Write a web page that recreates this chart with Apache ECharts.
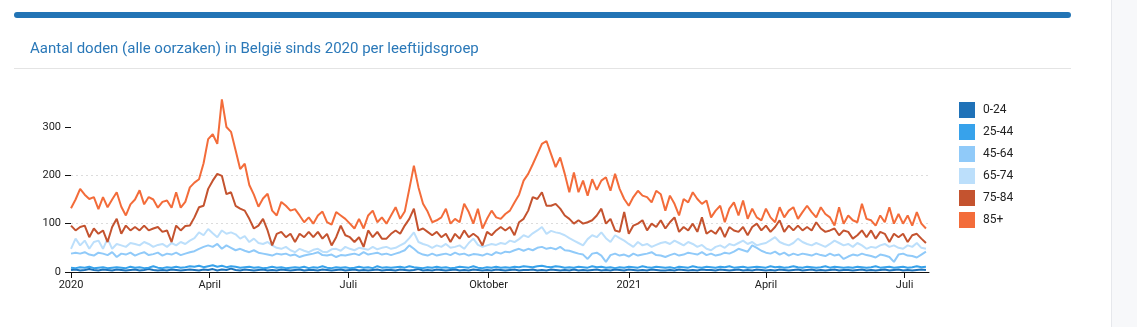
<!DOCTYPE html>
<html><head><meta charset="utf-8">
<script src="https://cdn.jsdelivr.net/npm/echarts@6/dist/echarts.min.js"></script>
<style>html,body{margin:0;padding:0;background:#fff}#c{width:1137px;height:327px}</style>
</head><body><div id="c"></div>
<script>
// day offsets from 2020-01-01, one value every 3 days
const stepDays = 3;
const lastDay = 563;
const tickDays = [0, 91, 182, 274, 366, 456, 547];
const tickLabels = ['2020', 'April', 'Juli', 'Oktober', '2021', 'April', 'Juli'];
const yTicks = [0, 100, 200, 300];
const seriesNames = ['0-24', '25-44', '45-64', '65-74', '75-84', '85+'];
const seriesColors = ['#1f72b8', '#37a2eb', '#90caf9', '#bcdffb', '#c4532f', '#f36c3a'];

const v0_24 = [
4,5,3,4,6,4,3,5,4,3, 5,4,3,4,5,3,4,6,4,3, 4,3,5,4,3,4,5,4,3,5, 4,6,3,5,4,7,4,3,5,4,
3,4,5,3,4,3,5,4,3,4, 5,3,4,4,3,5,4,3,4,5, 3,4,5,3,4,3,4,5,3,4, 4,3,5,4,3,4,6,3,4,3,
5,4,3,4,5,3,4,3,5,4, 3,4,3,5,4,3,4,5,3,4, 4,5,3,4,3,5,4,3,4,3, 5,3,4,3,4,5,3,4,3,5,
4,3,5,4,3,4,3,5,4,3, 3,4,3,5,4,3,4,3,5,4, 4,3,5,4,3,4,5,3,4,3, 5,4,3,4,3,5,4,3,4,5,
3,4,5,3,4,3,4,5,3,4, 4,3,4,5,3,4,3,4,5,3, 4,5,3,4,3,4,5,4];
const v25_44 = [
9,8,10,9,11,8,9,10,8,9, 10,9,8,11,9,10,8,9,12,9, 8,10,9,11,9,10,12,11,13,10, 12,14,11,13,10,12,11,9,10,11,
9,10,8,9,11,9,10,8,9,10, 9,11,8,10,9,12,9,8,10,9, 10,8,9,11,9,10,8,12,9,10, 9,10,11,9,12,10,9,8,10,9,
11,9,10,8,9,11,10,9,12,9, 8,10,9,11,9,10,9,11,10,12, 11,10,12,13,11,10,12,11,9,10, 9,11,10,9,12,10,11,9,10,8,
10,9,11,10,9,12,10,9,11,10, 9,10,8,11,10,9,12,10,9,11, 10,9,11,10,12,9,10,11,9,10, 11,10,9,12,10,11,9,10,12,10,
9,11,10,9,10,12,9,11,10,9, 10,9,11,10,9,10,12,9,10,11, 9,10,11,9,10,12,10,11];
const v45_64 = [
38,40,38,41,36,34,40,38,35,41, 31,38,36,40,34,38,41,35,37,40, 34,38,36,40,35,38,41,43,48,52, 55,52,58,48,55,50,45,48,44,41,
45,40,38,36,34,38,36,38,34,36, 31,34,36,38,41,35,34,36,31,35, 34,36,38,35,41,36,38,40,36,38, 35,38,41,45,55,48,40,36,34,38,
34,36,38,35,40,36,38,34,37,36, 34,38,35,41,38,42,41,45,48,44, 48,45,50,52,48,50,47,52,45,44, 41,38,36,27,38,40,34,21,35,38,
34,36,32,38,34,36,38,41,35,34, 31,35,38,34,36,40,38,36,41,35, 38,34,36,40,38,42,48,45,42,55, 50,44,40,38,42,36,40,34,38,35,
38,36,34,38,35,33,38,34,36,27, 32,36,34,38,35,33,30,36,34,31, 21,36,38,34,33,30,36,42];
const v65_74 = [
48,69,55,65,48,62,65,48,69,48, 58,55,52,60,58,55,62,58,52,56, 58,52,60,55,62,58,65,70,82,76, 89,80,72,86,79,82,78,69,74,62,
69,60,58,62,55,50,48,52,45,41, 48,44,41,46,48,42,41,47,48,44, 52,48,45,50,48,46,52,47,50,52, 48,50,55,60,70,82,62,58,55,50,
55,52,58,50,52,55,48,60,69,56, 52,55,58,56,60,58,65,62,68,76, 72,80,86,93,79,85,82,80,76,70, 65,60,55,68,76,72,82,70,62,76,
70,65,58,52,62,55,58,52,56,60, 62,58,65,60,55,62,58,52,56,48, 45,52,55,50,58,55,60,65,58,62, 55,58,60,66,72,62,58,55,60,69,
62,58,55,60,56,52,58,65,60,55, 58,52,60,55,48,52,50,55,58,52, 55,50,48,55,52,60,50,48];
const v75_84 = [
96,86,93,96,72,90,79,86,62,93, 110,79,96,86,93,86,96,86,90,93, 83,86,62,96,86,95,96,113,134,137, 172,189,203,199,161,165,137,131,127,110,
90,96,110,86,55,79,83,72,79,62, 79,72,83,72,83,69,79,55,72,96, 76,72,62,72,52,86,72,83,69,69, 79,86,79,96,110,131,86,90,83,76,
83,72,79,62,79,69,86,72,79,72, 55,83,76,86,93,86,93,76,103,110, 127,155,151,165,137,137,141,131,117,110, 100,107,100,103,107,117,131,100,110,86,
83,124,79,96,100,107,86,100,93,107, 90,103,113,83,93,86,100,83,113,79, 86,79,93,72,93,86,83,93,76,93, 100,86,96,83,93,107,83,96,86,96,
86,93,86,103,90,83,86,90,76,86, 83,69,76,86,72,86,69,83,79,62, 79,72,79,62,76,79,69,60];
const v85plus = [
132,150,172,160,151,155,130,155,134,150, 165,135,117,140,150,169,140,155,150,133, 145,148,133,165,133,145,175,185,192,225, 275,285,265,357,300,290,252,213,224,180,
160,135,152,162,127,117,145,137,127,130, 117,103,113,100,117,125,103,98,124,117, 110,100,90,110,90,117,127,103,113,100, 117,134,110,125,172,220,175,141,125,103,
107,113,131,100,110,103,141,124,100,131, 90,110,127,113,110,120,127,144,160,189, 203,223,244,265,271,244,217,237,203,165, 206,165,189,158,192,170,189,196,168,203,
172,151,137,155,168,158,155,144,168,161, 127,158,141,117,151,144,165,151,141,148, 113,127,137,103,131,144,117,148,110,131, 113,107,131,113,103,134,113,127,134,110,
124,137,124,113,134,120,113,96,134,100, 117,107,103,141,110,107,96,117,103,134, 100,120,100,117,96,124,100,90];

const allValues = [v0_24, v25_44, v45_64, v65_74, v75_84, v85plus];

const chart = echarts.init(document.getElementById('c'), null, {renderer: 'canvas'});
const font = 'Roboto, "Noto Sans", sans-serif';

chart.setOption({
  animation: false,
  textStyle: {fontFamily: font},
  title: {
    text: 'Aantal doden (alle oorzaken) in België sinds 2020 per leeftijdsgroep',
    left: 30, top: 42, padding: 0,
    textStyle: {color: '#2a78b8', fontSize: 15, fontWeight: 'normal', fontFamily: font}
  },
  graphic: [
    {type: 'rect', shape: {x: 14, y: 12, width: 1057, height: 6, r: 3}, style: {fill: '#2274b5'}},
    {type: 'rect', shape: {x: 14, y: 68, width: 1057, height: 1}, style: {fill: '#e4e4e4'}},
    {type: 'rect', shape: {x: 1112, y: 0, width: 25, height: 327}, style: {fill: '#f7f8fa'}},
    {type: 'rect', shape: {x: 1111, y: 0, width: 1, height: 327}, style: {fill: '#e6e8ec'}}
  ],
  legend: {
    orient: 'vertical', left: 954, top: 97,
    itemWidth: 16, itemHeight: 16, itemGap: 6, icon: 'rect',
    textStyle: {fontSize: 12, color: '#222', padding: [0, 0, 0, 3], fontFamily: font},
    data: seriesNames
  },
  grid: {left: 71, right: 208, top: 98, bottom: 55},
  xAxis: {
    type: 'value', min: 0, max: lastDay,
    axisLine: {show: true, lineStyle: {color: '#111', width: 1}},
    axisTick: {show: true, customValues: tickDays, length: 6, lineStyle: {color: '#111'}},
    axisLabel: {
      customValues: tickDays, color: '#222', fontSize: 11, margin: 8,
      formatter: v => tickLabels[tickDays.indexOf(v)] || ''
    },
    splitLine: {show: false}
  },
  yAxis: {
    type: 'value', min: 0, max: 360, interval: 100,
    axisLine: {show: false},
    axisTick: {show: true, customValues: yTicks, length: 6, lineStyle: {color: '#111'}},
    axisLabel: {customValues: yTicks, color: '#222', fontSize: 11, margin: 10},
    splitLine: {show: true, showMinLine: false, showMaxLine: false, lineStyle: {color: '#dcdcdc', type: [2, 3]}}
  },
  series: seriesNames.map((name, k) => ({
    name, type: 'line', showSymbol: false, symbol: 'none',
    color: seriesColors[k],
    lineStyle: {width: 2, color: seriesColors[k]},
    data: allValues[k].map((v, i) => [i * stepDays, v])
  }))
});
</script>
</body></html>
